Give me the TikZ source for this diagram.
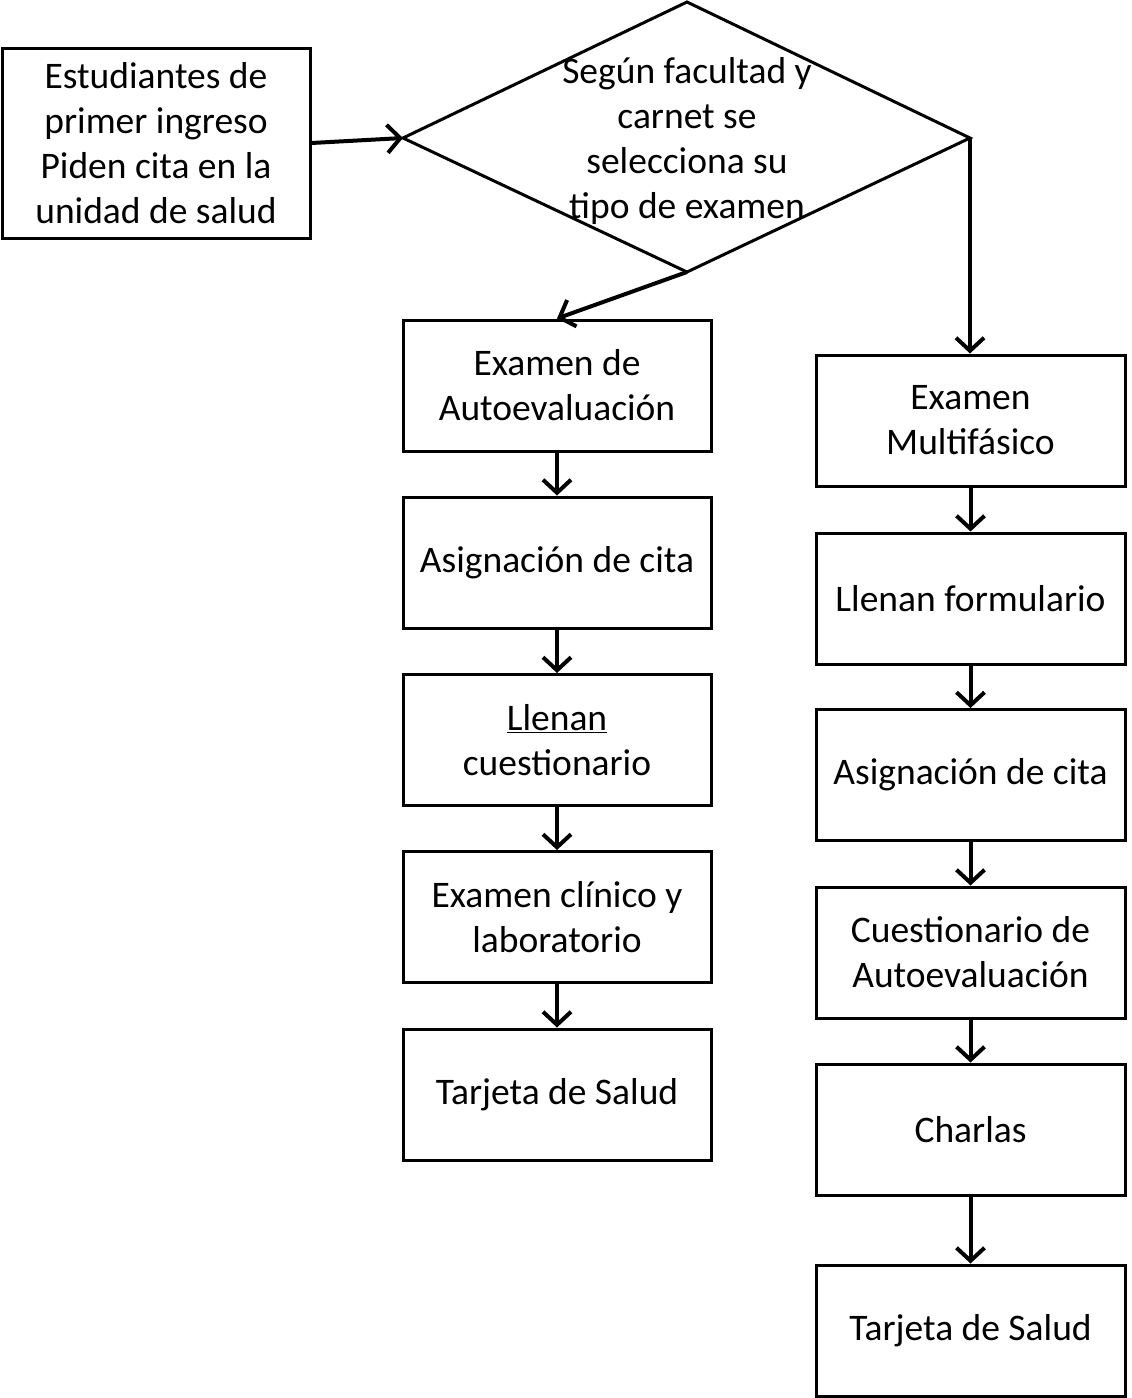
\documentclass[tikz,border=0pt]{standalone}
\usepackage{fontspec}
\setmainfont{Carlito}
\usetikzlibrary{arrows.meta,positioning}
\begin{document}
\begin{tikzpicture}[x=1pt,y=-1pt,
  box/.style={draw=black,line width=3pt,inner sep=0pt,align=center,font=\fontsize{37.5}{45}\selectfont},
  conn/.style={line width=4pt,-{Straight Barb[length=13pt,width=28pt,line width=4pt]}},
  plain/.style={line width=4pt}]
\useasboundingbox (0,0) rectangle (1132,1398);
% start box
\node[box,minimum width=308pt,minimum height=190pt] (start) at (156,143) {\raisebox{-2pt}{}Estudiantes de\\primer ingreso\\Piden cita en la\\unidad de salud};
% diamond
\coordinate (dt) at (687,2);
\coordinate (dl) at (403,138);
\coordinate (dr) at (970,138);
\coordinate (db) at (687,272);
\draw[line width=3pt,line join=miter] (dt) -- (dr) -- (db) -- (dl) -- cycle;
\node[align=center,inner sep=0pt,font=\fontsize{37.5}{45}\selectfont] (dtext) at (687,141) {Según facultad y\\carnet se\\selecciona su\\tipo de examen};
% left column
\node[box,minimum width=308pt,minimum height=131pt] (l1) at (557,385.5) {Examen de\\Autoevaluación};
\node[box,minimum width=308pt,minimum height=131pt] (l2) at (557,562.5) {Asignación de cita};
\node[box,minimum width=308pt,minimum height=131pt] (l3) at (557,740) {\underline{Llenan}\\cuestionario};
\node[box,minimum width=308pt,minimum height=131pt] (l4) at (557,917) {Examen clínico y\\laboratorio};
\node[box,minimum width=308pt,minimum height=131pt] (l5) at (557,1094.5) {Tarjeta de Salud};
% right column
\node[box,minimum width=309pt,minimum height=131pt] (r1) at (970.5,420.5) {Examen\\Multifásico};
\node[box,minimum width=309pt,minimum height=131pt] (r2) at (970.5,598.5) {Llenan formulario};
\node[box,minimum width=309pt,minimum height=131pt] (r3) at (970.5,775) {Asignación de cita};
\node[box,minimum width=309pt,minimum height=131pt] (r4) at (970.5,952.5) {Cuestionario de\\Autoevaluación};
\node[box,minimum width=309pt,minimum height=131pt] (r5) at (970.5,1129.5) {Charlas};
\node[box,minimum width=309pt,minimum height=131pt] (r6) at (970.5,1330.5) {Tarjeta de Salud};
% connectors
\draw[conn] (start.east) -- (dl);
\draw[conn] (db) -- (l1.north);
\draw[conn] (dr) -- (r1.north -| dr);
\draw[conn] (l1) -- (l2);
\draw[conn] (l2) -- (l3);
\draw[conn] (l3) -- (l4);
\draw[conn] (l4) -- (l5);
\draw[conn] (r1) -- (r2);
\draw[conn] (r2) -- (r3);
\draw[conn] (r3) -- (r4);
\draw[conn] (r4) -- (r5);
\draw[conn] (r5) -- (r6);
\end{tikzpicture}
\end{document}
